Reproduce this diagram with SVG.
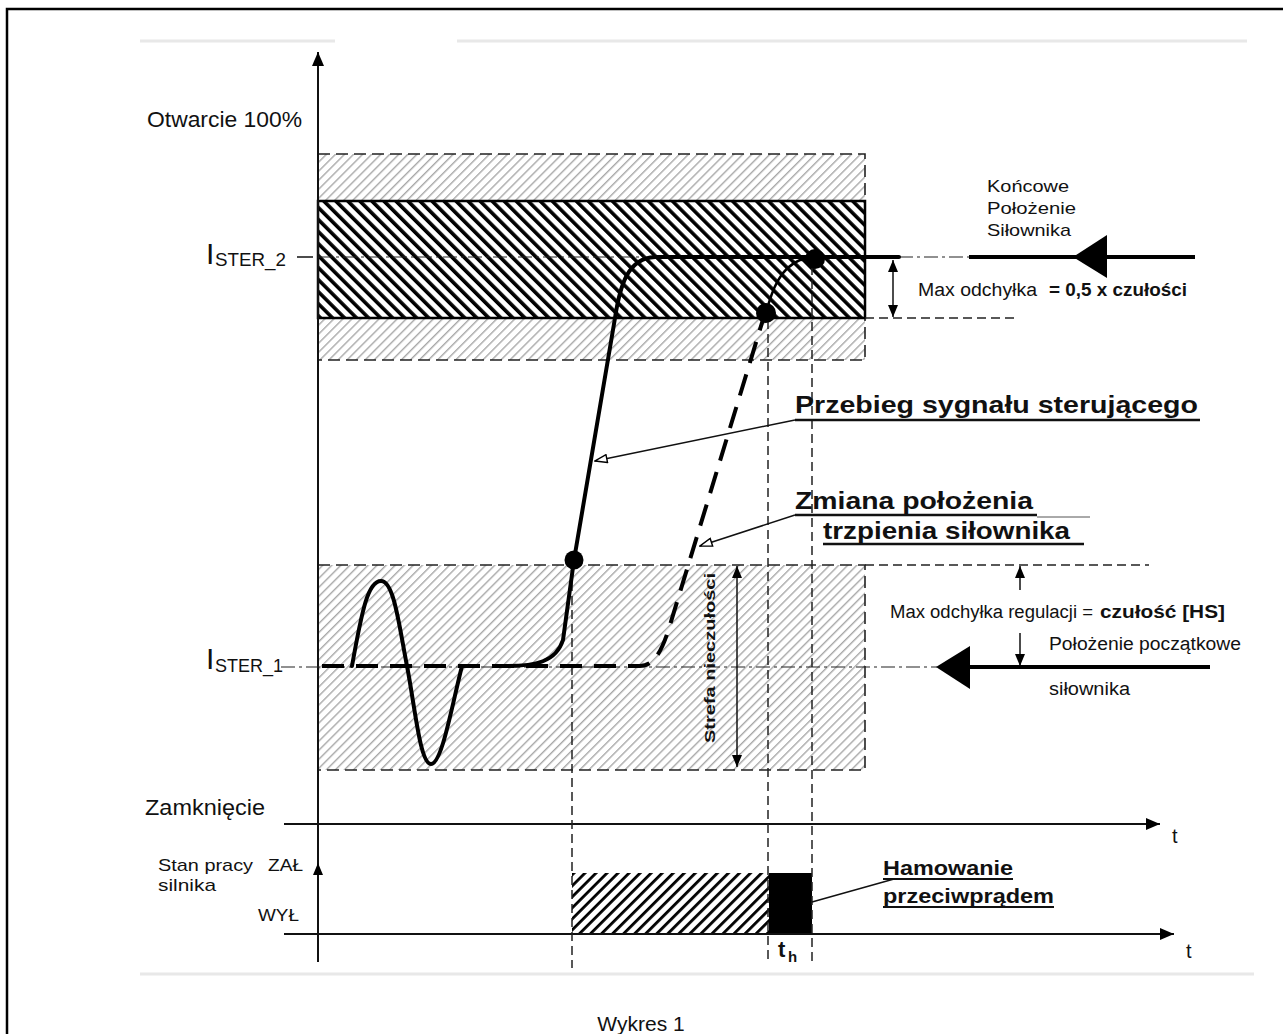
<svg xmlns="http://www.w3.org/2000/svg" width="1283" height="1034" viewBox="0 0 1283 1034">
<defs>
<style>
text{font-family:"Liberation Sans",Arial,sans-serif;fill:#111}
.b{font-weight:bold}
.dash{fill:none;stroke:#222;stroke-width:1.5;stroke-dasharray:9 5}
.zb{fill:none;stroke:#222;stroke-width:1.6;stroke-dasharray:12 6}
.dd{fill:none;stroke:#222;stroke-width:1.2;stroke-dasharray:14 4 3 4}
.thin{fill:none;stroke:#111;stroke-width:1.5}
.ul{stroke:#111;stroke-width:2.5}
.ax{stroke:#111;stroke-width:2;fill:none}
.sig{fill:none;stroke:#000;stroke-width:4;stroke-linejoin:round;stroke-linecap:round}
.pos{fill:none;stroke:#000;stroke-width:4;stroke-dasharray:22 12}
.faint{stroke:#e8e8e8;stroke-width:3}
.dot{fill:#000}
</style>
<pattern id="hg" patternUnits="userSpaceOnUse" width="6.4" height="10" patternTransform="rotate(45)"><rect width="1.4" height="10" fill="#a8a8a8"/></pattern>
<pattern id="hb" patternUnits="userSpaceOnUse" width="8.5" height="10" patternTransform="rotate(-45)"><rect width="3.6" height="10" fill="#000"/></pattern>
<pattern id="hm" patternUnits="userSpaceOnUse" width="7.8" height="10" patternTransform="rotate(45)"><rect width="2.8" height="10" fill="#000"/></pattern>
<marker id="ah" viewBox="0 0 12 10" refX="12" refY="5" markerWidth="12" markerHeight="10" markerUnits="userSpaceOnUse" orient="auto-start-reverse"><path d="M0,0L12,5L0,10z" fill="#000"/></marker>
<marker id="axh" viewBox="0 0 14 12" refX="14" refY="6" markerWidth="14" markerHeight="12" markerUnits="userSpaceOnUse" orient="auto"><path d="M0,0L14,6L0,12z" fill="#000"/></marker>
<marker id="la" viewBox="0 0 14 10" refX="13" refY="5" markerWidth="14" markerHeight="10" markerUnits="userSpaceOnUse" orient="auto"><path d="M1,1L13,5L1,9z" fill="#fff" stroke="#000" stroke-width="1.4"/></marker>
</defs>
<rect width="1283" height="1034" fill="#fff"/>
<rect x="7" y="9" width="1290" height="1040" fill="none" stroke="#000" stroke-width="2.5"/>
<g id="faint-lines">
<line class="faint" x1="140" y1="41" x2="335" y2="41"/>
<line class="faint" x1="457" y1="41" x2="1247" y2="41"/>
<line class="faint" x1="140" y1="974" x2="1254" y2="974" stroke-width="2"/>
</g>

<g id="zone-upper">
<rect x="318" y="154" width="547" height="206" fill="url(#hg)"/>
<path class="zb" d="M318,154H865V360H318"/>
</g>
<g id="zone-band">
<rect x="318" y="201" width="547" height="117" fill="#fff"/>
<rect x="318" y="201" width="547" height="117" fill="url(#hb)" stroke="#000" stroke-width="2.5"/>
</g>
<g id="zone-lower">
<rect x="318" y="565" width="547" height="205" fill="url(#hg)"/>
<path class="zb" d="M318,565H865V770H318"/>
</g>
<g id="motor-on">
<rect x="572" y="873" width="197" height="61" fill="url(#hm)"/>
</g>
<g id="braking">
<rect x="769" y="873" width="43" height="61" fill="#000"/>
</g>

<g id="connectors">
<line class="ax" x1="318" y1="962" x2="318" y2="52" marker-end="url(#axh)"/>
<line class="ax" x1="318" y1="890" x2="318" y2="863" marker-end="url(#ah)"/>
<line class="ax" x1="284" y1="824" x2="1160" y2="824" marker-end="url(#axh)"/>
<line class="ax" x1="284" y1="934" x2="1174" y2="934" marker-end="url(#axh)"/>
<line class="dd" x1="318" y1="257" x2="645" y2="257"/>
<line class="dd" x1="899" y1="257" x2="970" y2="257"/>
<line class="dd" x1="281" y1="667" x2="937" y2="667"/>
<line class="dash" x1="865" y1="318" x2="1019" y2="318" stroke-dasharray="6 4" stroke-width="1.3"/>
<line class="dash" x1="865" y1="565" x2="1149" y2="565" stroke="#777" stroke-dasharray="6 5" stroke-width="1.3"/>
<line class="dash" x1="572" y1="568" x2="572" y2="968"/>
<line class="dash" x1="768" y1="320" x2="768" y2="963"/>
<line class="dash" x1="812" y1="266" x2="812" y2="963"/>
<line x1="297" y1="257" x2="313" y2="257" stroke="#111" stroke-width="1.5"/>
<line class="thin" x1="893" y1="260" x2="893" y2="317" marker-start="url(#ah)" marker-end="url(#ah)"/>
<line class="thin" x1="737" y1="566" x2="737" y2="767" marker-start="url(#ah)" marker-end="url(#ah)"/>
<line class="thin" x1="1020" y1="590" x2="1020" y2="566" marker-end="url(#ah)"/>
<line class="thin" x1="1020" y1="633" x2="1020" y2="666" marker-end="url(#ah)"/>
<line x1="969" y1="257" x2="1195" y2="257" stroke="#000" stroke-width="4"/>
<polygon points="1073,257 1107,235 1107,278" fill="#000"/>
<line x1="970" y1="667" x2="1210" y2="667" stroke="#000" stroke-width="4"/>
<polygon points="936,667 970,646 970,689" fill="#000"/>
<line class="thin" x1="795" y1="420" x2="595" y2="461" marker-end="url(#la)"/>
<line class="thin" x1="795" y1="515" x2="700" y2="546" marker-end="url(#la)"/>
<line class="thin" x1="812" y1="902" x2="894" y2="879"/>
<line class="ul" x1="795" y1="420" x2="1200" y2="420"/>
<line class="ul" x1="795" y1="515" x2="1037" y2="515"/>
<line x1="1037" y1="517" x2="1090" y2="517" stroke="#555" stroke-width="1"/>
<line class="ul" x1="823" y1="544" x2="1084" y2="544"/>
<line x1="883" y1="879" x2="1013" y2="879" stroke="#111" stroke-width="2"/>
<line x1="883" y1="907" x2="1054" y2="907" stroke="#111" stroke-width="2"/>
</g>

<g id="position">
<path class="pos" d="M322,666 L640,666 C655,666 663,648 670,625 L765,313"/>
<path d="M766,313 C772,290 780,268 800,260 L815,259" fill="none" stroke="#000" stroke-width="2.5"/>
</g>
<g id="signal">
<path class="sig" d="M352,666 C362,610 368,581 381,581 C394,581 399,625 407,666 C415,707 420,764 431,764 C442,764 452,705 462,666"/>
<path class="sig" d="M507,666 C535,666 556,662 563,640 L574,560 L615,318 C620,285 628,258 655,257 L899,257"/>
<circle class="dot" cx="574" cy="560" r="9.5"/>
<circle class="dot" cx="766" cy="313" r="10"/>
<circle class="dot" cx="815" cy="259" r="10"/>
</g>

<g id="labels">
<text x="147" y="127" font-size="22" textLength="155" lengthAdjust="spacingAndGlyphs">Otwarcie 100%</text>
<text x="206" y="264" font-size="30">I</text>
<text x="215" y="266" font-size="19" textLength="71" lengthAdjust="spacingAndGlyphs">STER_2</text>
<text x="206" y="669" font-size="30">I</text>
<text x="215" y="672" font-size="19" textLength="68" lengthAdjust="spacingAndGlyphs">STER_1</text>
<text x="987" y="192" font-size="17" textLength="82" lengthAdjust="spacingAndGlyphs">Końcowe</text>
<text x="987" y="214" font-size="17" textLength="89" lengthAdjust="spacingAndGlyphs">Położenie</text>
<text x="987" y="236" font-size="17" textLength="84" lengthAdjust="spacingAndGlyphs">Siłownika</text>
<text x="918" y="296" font-size="18" textLength="119" lengthAdjust="spacingAndGlyphs" fill="#222">Max odchyłka</text>
<text x="1049" y="296" font-size="18" class="b" textLength="138" lengthAdjust="spacingAndGlyphs">= 0,5 x czułości</text>
<text x="795" y="413" font-size="24" class="b" textLength="403" lengthAdjust="spacingAndGlyphs">Przebieg sygnału sterującego</text>
<text x="795" y="509" font-size="24" class="b" textLength="238" lengthAdjust="spacingAndGlyphs">Zmiana położenia</text>
<text x="823" y="539" font-size="24" class="b" textLength="247" lengthAdjust="spacingAndGlyphs">trzpienia siłownika</text>
<text x="890" y="618" font-size="18" textLength="203" lengthAdjust="spacingAndGlyphs" fill="#222">Max odchyłka regulacji =</text>
<text x="1100" y="618" font-size="18" class="b" textLength="125" lengthAdjust="spacingAndGlyphs">czułość [HS]</text>
<text x="1049" y="650" font-size="18" textLength="192" lengthAdjust="spacingAndGlyphs" fill="#222">Położenie początkowe</text>
<text x="1049" y="695" font-size="18" textLength="81" lengthAdjust="spacingAndGlyphs" fill="#222">siłownika</text>
<text transform="translate(715,658) rotate(-90)" font-size="15" class="b" text-anchor="middle" textLength="170" lengthAdjust="spacingAndGlyphs">Strefa  nieczułości</text>
<text x="145" y="815" font-size="22" textLength="120" lengthAdjust="spacingAndGlyphs">Zamknięcie</text>
<text x="158" y="871" font-size="17" textLength="95" lengthAdjust="spacingAndGlyphs">Stan pracy</text>
<text x="268" y="871" font-size="17" textLength="35" lengthAdjust="spacingAndGlyphs">ZAŁ</text>
<text x="158" y="891" font-size="17" textLength="58" lengthAdjust="spacingAndGlyphs">silnika</text>
<text x="258" y="921" font-size="17" textLength="41" lengthAdjust="spacingAndGlyphs">WYŁ</text>
<text x="883" y="875" font-size="20" class="b" textLength="130" lengthAdjust="spacingAndGlyphs">Hamowanie</text>
<text x="883" y="903" font-size="20" class="b" textLength="171" lengthAdjust="spacingAndGlyphs">przeciwprądem</text>
<text x="1172" y="843" font-size="20">t</text>
<text x="1186" y="958" font-size="20">t</text>
<text x="778" y="957" font-size="22" class="b">t</text>
<text x="788" y="962" font-size="15" class="b">h</text>
<text x="641" y="1031" font-size="21" text-anchor="middle">Wykres 1</text>
</g>
</svg>
